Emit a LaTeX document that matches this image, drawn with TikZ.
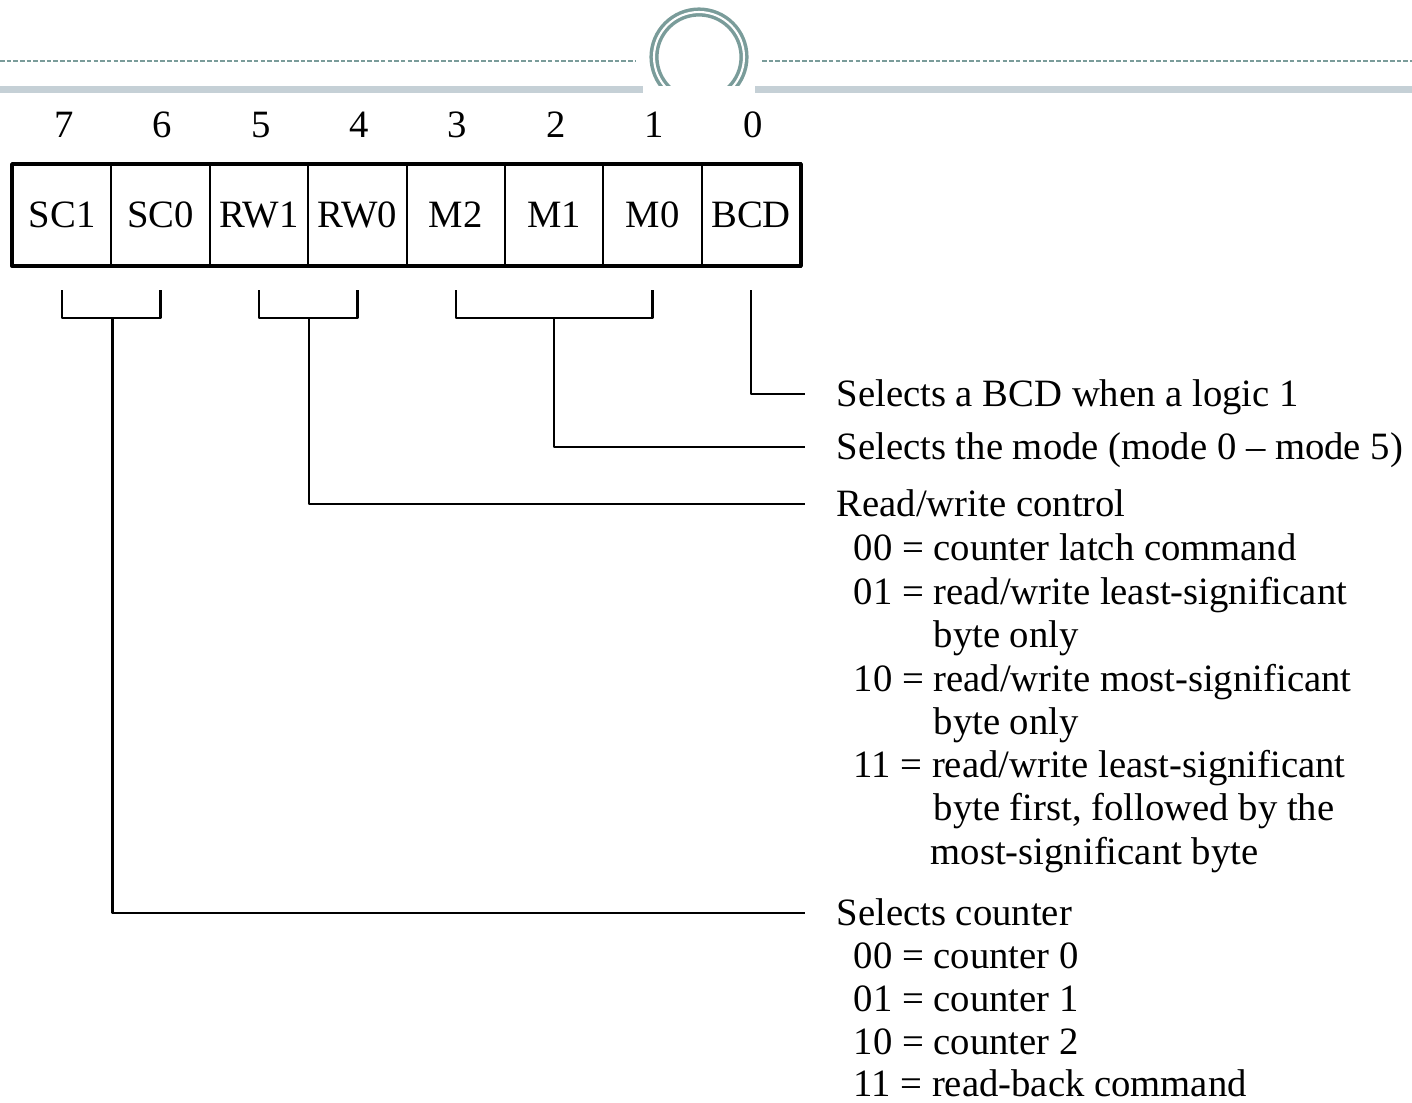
\documentclass[tikz,border=0pt]{standalone}
\usepackage{fontspec}
\setmainfont{Liberation Serif}
\usetikzlibrary{positioning}
\definecolor{ringcol}{HTML}{7A9C9A}
\definecolor{barcol}{HTML}{C5D0D6}

\begin{document}
\begin{tikzpicture}[x=0.01cm, y=-0.01cm, line join=round,
  cell/.style={draw, line width=0.6pt, minimum width=0.984cm, minimum height=1cm,
               inner sep=0pt, font=\fontsize{11}{13}\selectfont},
  bitnum/.style={inner sep=0pt, font=\fontsize{11}{13}\selectfont},
  conn/.style={line width=0.65pt},
  txt/.style={anchor=west, inner sep=0pt, text height=9pt, text depth=2pt,
              font=\fontsize{11}{13}\selectfont},
  head/.style={txt, inner xsep=0.31cm}]
  \useasboundingbox (0,0) rectangle (1412,1102);
  % slide header: dashed rule, ring and grey bar
  \draw[ringcol, line width=0.4pt, dash pattern=on 1.3pt off 0.6pt] (0,61) -- (635,61);
  \draw[ringcol, line width=0.4pt, dash pattern=on 1.3pt off 0.6pt] (762,61) -- (1412,61);
  \draw[ringcol, line width=1pt, double=white, double distance=0.6pt] (699,57) circle [radius=45];
  \fill[white] (630,86) rectangle (770,115);
  \fill[barcol] (0,86) rectangle (643,93);
  \fill[barcol] (755,86) rectangle (1412,93);

  % the register
  \foreach \lab/\b [count=\k from 0] in {SC1/7,SC0/6,RW1/5,RW0/4,M2/3,M1/2,M0/1,BCD/0} {
    \node[cell] (b\b) at (62.2+98.4*\k,215) {\lab};
    \node[bitnum] (n\b) at (64+98.4*\k,125) {\b};
  }
  \draw[line width=1pt] (b7.north west) rectangle (b0.south east);

  % descriptions
  \node[head] (bcdsel) at (805,394) {Selects a BCD when a logic 1};
  \node[head] (modesel) at (805,447) {Selects the mode (mode 0 -- mode 5)};
  \node[head] (rwsel) at (805,504) {Read/write control};
  \node[txt] (rwa) at (853,548) {00 = counter latch command};
  \node[txt] (rwb) at (853,592) {01 = read/write least-significant};
  \node[txt] (rwbb) at (933,635) {byte only};
  \node[txt] (rwc) at (853,679) {10 = read/write most-significant};
  \node[txt] (rwcc) at (933,722) {byte only};
  \node[txt] (rwd) at (853,765) {11 = read/write least-significant};
  \node[txt] (rwdd) at (933,808) {byte first, followed by the};
  \node[txt] (rwddd) at (930,852) {most-significant byte};
  \node[head] (cntsel) at (805,913) {Selects counter};
  \node[txt] (cnta) at (853,956) {00 = counter 0};
  \node[txt] (cntb) at (853,999) {01 = counter 1};
  \node[txt] (cntc) at (853,1042) {10 = counter 2};
  \node[txt] (cntd) at (853,1084) {11 = read-back command};

  % brackets and leaders
  \draw[conn] (b7 |- 0,290) -- (b7 |- 0,318) -- (b6 |- 0,318) -- (b6 |- 0,290);
  \draw[conn] (b5 |- 0,290) -- (b5 |- 0,318) -- (b4 |- 0,318) -- (b4 |- 0,290);
  \draw[conn] (b3 |- 0,290) -- (b3 |- 0,318) -- (b1 |- 0,318) -- (b1 |- 0,290);
  \draw[conn] (b7.east |- 0,318) |- (cntsel.west);
  \draw[conn] (b5.east |- 0,318) |- (rwsel.west);
  \draw[conn] (b2 |- 0,318) |- (modesel.west);
  \draw[conn] (b0 |- 0,290) |- (bcdsel.west);
\end{tikzpicture}
\end{document}
